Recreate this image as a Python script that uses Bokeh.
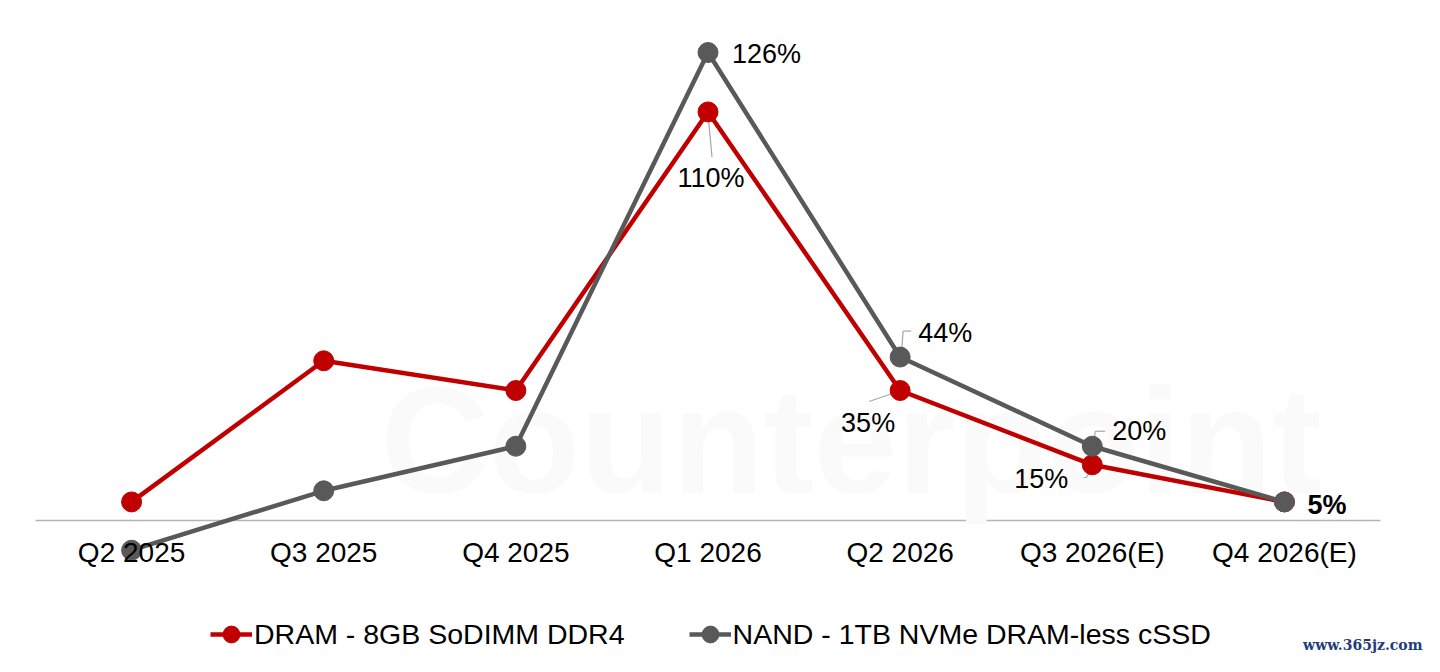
from bokeh.plotting import figure
from bokeh.models import Range1d, FixedTicker, Label, Legend, LegendItem, ColumnDataSource
from bokeh.core.properties import value
from bokeh.embed import file_html
from bokeh.resources import INLINE

# ---------------- data ----------------
quarters = ["Q2 2025", "Q3 2025", "Q4 2025", "Q1 2026", "Q2 2026", "Q3 2026(E)", "Q4 2026(E)"]
dram = [5, 43, 35, 110, 35, 15, 5]
nand = [-8, 8, 20, 126, 44, 20, 5]
dram_name = "DRAM - 8GB SoDIMM DDR4"
nand_name = "NAND - 1TB NVMe DRAM-less cSSD"

RED = "#C00000"
GRAY = "#595959"
LEADER = "#A6A6A6"
FONT = "Liberation Sans"

W, H = 1424, 656
PLOT_L, PLOT_R = 35, 1380                # where the category band starts / ends
px_x = (PLOT_R - PLOT_L) / len(quarters) # px per category
zero_px = 520                            # canvas y of zero
top_val, top_px = 126, 52
k = (zero_px - top_px) / top_val         # px per percent
y_end = zero_px / k
y_start = -(H - zero_px) / k
x_start = -PLOT_L / px_x
x_end = (W - PLOT_L) / px_x

p = figure(width=W, height=H, output_backend="svg", toolbar_location=None,
           x_range=Range1d(x_start, x_end), y_range=Range1d(y_start, y_end),
           min_border_left=0, min_border_right=0, min_border_top=0, min_border_bottom=0,
           y_axis_location=None)
p.outline_line_color = None
p.grid.visible = False
p.background_fill_color = "white"

xs = [i + 0.5 for i in range(len(quarters))]

# watermark
p.add_layout(Label(x=380, y=H - 440, x_units="screen", y_units="screen", text="Counterpoint",
                   text_font=FONT, text_font_style="bold", text_font_size="150px",
                   text_color="#FAFAFA", text_baseline="alphabetic", level="underlay"))

# axis (labels) + baseline
ax = p.xaxis[0]
ax.fixed_location = 0
ax.ticker = FixedTicker(ticks=xs)
ax.major_label_overrides = {x: q for x, q in zip(xs, quarters)}
ax.axis_line_color = None
ax.major_tick_line_color = None
ax.minor_tick_line_color = None
ax.major_tick_out = 0
ax.major_tick_in = 0
ax.major_label_standoff = 16
ax.major_label_text_font = FONT
ax.major_label_text_font_size = "28px"
ax.major_label_text_color = "black"
p.segment(x0=[0], y0=[0], x1=[len(quarters)], y1=[0], line_color="#B4B4B4", line_width=1.5,
          level="underlay")

# lines
dl = p.line(xs, dram, line_color=RED, line_width=4.5)
ds = p.scatter(xs, dram, marker="circle", size=20, fill_color=RED, line_color=RED)
nl = p.line(xs, nand, line_color=GRAY, line_width=4.5)
ns = p.scatter(xs, nand, marker="circle", size=20, fill_color=GRAY, line_color=GRAY)

def dx(px):
    return px / px_x

def dy(px):
    return -px / k   # positive px = downward on screen

# leader lines (pixel offsets converted to data units)
lx0, ly0, lx1, ly1 = [], [], [], []
def seg(i, vals, a, b, c, d):
    lx0.append(xs[i] + dx(a)); ly0.append(vals[i] + dy(b))
    lx1.append(xs[i] + dx(c)); ly1.append(vals[i] + dy(d))

seg(3, dram, 0, 2, 4, 45)
seg(4, nand, 1, 0, 3, -26)
seg(4, nand, 3, -26, 11, -26)
seg(4, dram, -2, 1, -31, 11)
seg(5, nand, 1, 0, 3, -15)
seg(5, nand, 3, -15, 13, -15)
seg(5, dram, 1, 0, -6, 13)
seg(5, dram, -6, 13, -16, 13)
p.segment(lx0, ly0, lx1, ly1, line_color=LEADER, line_width=1.2, level="underlay")

def pct(v):
    return f"{v}%"

lab_x, lab_y, lab_t, lab_xo, lab_yo, lab_al = [], [], [], [], [], []
def lab(i, vals, xo, yo, align):
    lab_x.append(xs[i]); lab_y.append(vals[i]); lab_t.append(pct(vals[i]))
    lab_xo.append(xo); lab_yo.append(yo); lab_al.append(align)

lab(3, nand, 24, 1, "left")
lab(3, dram, 3, 66, "center")
lab(4, nand, 18, -24, "left")
lab(4, dram, -5, 32, "right")
lab(5, nand, 20, -15, "left")
lab(5, dram, -24, 14, "right")

src = ColumnDataSource(dict(x=lab_x, y=lab_y, t=lab_t, xo=lab_xo, yo=lab_yo, al=lab_al))
p.text(x="x", y="y", text="t", x_offset="xo", y_offset="yo", text_align="al", source=src,
       text_baseline="middle", text_font=value(FONT), text_font_size="27px", text_color="black")

p.text(x=[xs[6]], y=[nand[6]], text=[pct(nand[6])], x_offset=23, y_offset=3,
       text_align="left", text_baseline="middle", text_font=value(FONT),
       text_font_size="27px", text_font_style="bold", text_color="black")

# legend
legend = Legend(items=[LegendItem(label=dram_name, renderers=[dl, ds]),
                       LegendItem(label=nand_name, renderers=[nl, ns])],
                orientation="horizontal", location=(210, 1),
                padding=0, margin=0, spacing=64, label_standoff=2,
                glyph_width=42, glyph_height=42,
                label_text_font=FONT, label_text_font_size="28.5px", label_text_color="black",
                background_fill_alpha=0, border_line_color=None)
p.add_layout(legend)

# site watermark
p.add_layout(Label(x=W - 2, y=12, x_units="screen", y_units="screen",
                   text="www.365jz.com", text_font="DejaVu Serif", text_font_size="14px",
                   text_font_style="bold", text_color="#1F3D7A", text_baseline="middle",
                   text_align="right"))

open("out.html", "w").write(file_html(p, INLINE))
